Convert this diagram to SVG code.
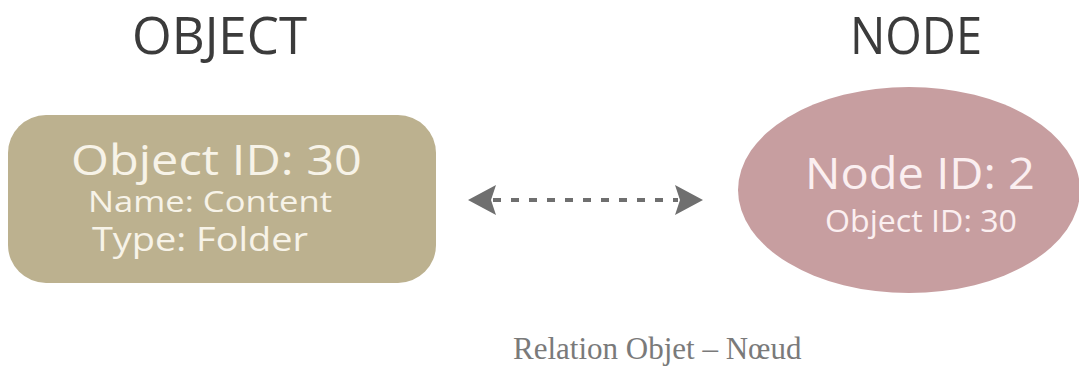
<svg xmlns="http://www.w3.org/2000/svg" width="1079" height="367" viewBox="0 0 1079 367">
<style>
.title{font-family:"Open Sans","Liberation Sans",sans-serif;font-size:51px;fill:#3b3b3b}
.lbl{font-family:"Open Sans","Liberation Sans",sans-serif}
.obj{fill:#f7f3e8}
.nod{fill:#fbeff0}
.cap{font-family:"Liberation Serif","Times New Roman",serif;font-size:31px;fill:#7a7a7a}
.conn{fill:none;stroke:#6f6f6f;stroke-width:4;stroke-dasharray:8 10}
</style>
<defs>
<marker id="head" markerUnits="userSpaceOnUse" markerWidth="30" markerHeight="32" refX="3" refY="15" orient="auto-start-reverse" viewBox="0 0 30 30">
<path d="M0,0 L28,15 L0,30 L5,15 Z" fill="#6f6f6f"/>
</marker>
</defs>
<rect width="1079" height="367" fill="#ffffff"/>
<text class="title" x="132" y="54" textLength="175" lengthAdjust="spacingAndGlyphs">OBJECT</text>
<text class="title" x="850" y="54" textLength="132" lengthAdjust="spacingAndGlyphs">NODE</text>
<g id="object">
<rect x="8" y="115" width="428" height="168" rx="38" ry="38" fill="#bcb18f"/>
<text class="lbl obj" x="71" y="175" font-size="42" textLength="291" lengthAdjust="spacingAndGlyphs">Object ID: 30</text>
<text class="lbl obj" x="88" y="212" font-size="30" textLength="244" lengthAdjust="spacingAndGlyphs">Name: Content</text>
<text class="lbl obj" x="92" y="251" font-size="32" textLength="216" lengthAdjust="spacingAndGlyphs">Type: Folder</text>
</g>
<g id="node">
<ellipse cx="909" cy="190" rx="171" ry="103" fill="#c79ea0"/>
<text class="lbl nod" x="805" y="189" font-size="44" textLength="230" lengthAdjust="spacingAndGlyphs">Node ID: 2</text>
<text class="lbl nod" x="825" y="232" font-size="31" textLength="192" lengthAdjust="spacingAndGlyphs">Object ID: 30</text>
</g>
<g id="connectors">
<path class="conn" d="M493,200 L678,200" marker-start="url(#head)" marker-end="url(#head)"/>
</g>
<text class="cap" x="513" y="359">Relation Objet – Nœud</text>
</svg>
